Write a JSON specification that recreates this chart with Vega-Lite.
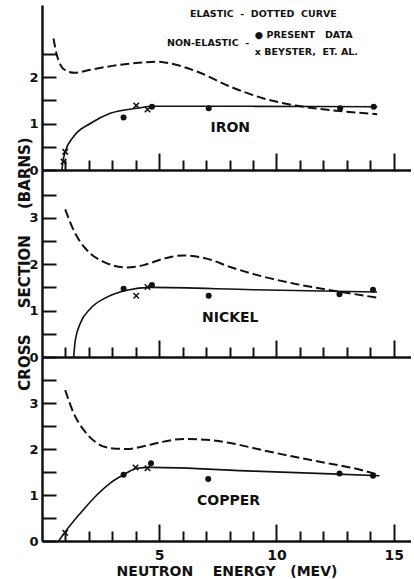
{
  "$schema": "https://vega.github.io/schema/vega-lite/v6.json",
  "padding": {"left": 17, "top": 5, "right": 0, "bottom": 0},
  "spacing": 0,
  "bounds": "flush",
  "config": {
    "view": {"stroke": null},
    "font": "DejaVu Sans",
    "axis": {"grid": false, "domainColor": "#111", "domainWidth": 2.5, "tickColor": "#111", "tickWidth": 2, "labelFont": "DejaVu Sans", "labelFontWeight": "bold", "labelColor": "#111", "titleFont": "DejaVu Sans", "titleFontWeight": "bold", "titleColor": "#111"}
  },
  "datasets": {
    "curves": [
      {"m":"IRON","k":"el","e":0.49,"s":2.83},{"m":"IRON","k":"el","e":0.62,"s":2.5},{"m":"IRON","k":"el","e":0.8,"s":2.25},{"m":"IRON","k":"el","e":1.05,"s":2.13},{"m":"IRON","k":"el","e":1.4,"s":2.09},{"m":"IRON","k":"el","e":2.0,"s":2.15},{"m":"IRON","k":"el","e":3.0,"s":2.24},{"m":"IRON","k":"el","e":4.0,"s":2.3},{"m":"IRON","k":"el","e":4.9,"s":2.33},{"m":"IRON","k":"el","e":5.5,"s":2.29},{"m":"IRON","k":"el","e":6.6,"s":2.12},{"m":"IRON","k":"el","e":8.0,"s":1.8},{"m":"IRON","k":"el","e":9.45,"s":1.54},{"m":"IRON","k":"el","e":10.9,"s":1.38},{"m":"IRON","k":"el","e":12.3,"s":1.29},{"m":"IRON","k":"el","e":14.3,"s":1.2},
      {"m":"IRON","k":"ne","e":0.85,"s":0},{"m":"IRON","k":"ne","e":0.9,"s":0.2},{"m":"IRON","k":"ne","e":0.99,"s":0.39},{"m":"IRON","k":"ne","e":1.35,"s":0.72},{"m":"IRON","k":"ne","e":2.06,"s":1.0},{"m":"IRON","k":"ne","e":2.91,"s":1.22},{"m":"IRON","k":"ne","e":4.05,"s":1.33},{"m":"IRON","k":"ne","e":4.76,"s":1.37},{"m":"IRON","k":"ne","e":9.0,"s":1.37},{"m":"IRON","k":"ne","e":14.3,"s":1.36},
      {"m":"NICKEL","k":"el","e":0.99,"s":3.18},{"m":"NICKEL","k":"el","e":1.35,"s":2.73},{"m":"NICKEL","k":"el","e":1.92,"s":2.3},{"m":"NICKEL","k":"el","e":2.63,"s":2.05},{"m":"NICKEL","k":"el","e":3.62,"s":1.93},{"m":"NICKEL","k":"el","e":4.33,"s":1.98},{"m":"NICKEL","k":"el","e":5.19,"s":2.12},{"m":"NICKEL","k":"el","e":6.04,"s":2.19},{"m":"NICKEL","k":"el","e":7.03,"s":2.12},{"m":"NICKEL","k":"el","e":8.03,"s":1.94},{"m":"NICKEL","k":"el","e":9.45,"s":1.73},{"m":"NICKEL","k":"el","e":10.87,"s":1.57},{"m":"NICKEL","k":"el","e":12.3,"s":1.44},{"m":"NICKEL","k":"el","e":14.29,"s":1.28},
      {"m":"NICKEL","k":"ne","e":1.35,"s":0},{"m":"NICKEL","k":"ne","e":1.42,"s":0.36},{"m":"NICKEL","k":"ne","e":1.63,"s":0.72},{"m":"NICKEL","k":"ne","e":2.06,"s":1.04},{"m":"NICKEL","k":"ne","e":2.77,"s":1.29},{"m":"NICKEL","k":"ne","e":3.62,"s":1.44},{"m":"NICKEL","k":"ne","e":4.62,"s":1.5},{"m":"NICKEL","k":"ne","e":9.0,"s":1.45},{"m":"NICKEL","k":"ne","e":14.29,"s":1.4},
      {"m":"COPPER","k":"el","e":0.99,"s":3.28},{"m":"COPPER","k":"el","e":1.35,"s":2.78},{"m":"COPPER","k":"el","e":1.77,"s":2.42},{"m":"COPPER","k":"el","e":2.34,"s":2.13},{"m":"COPPER","k":"el","e":2.91,"s":2.02},{"m":"COPPER","k":"el","e":3.62,"s":2.0},{"m":"COPPER","k":"el","e":4.33,"s":2.06},{"m":"COPPER","k":"el","e":5.19,"s":2.16},{"m":"COPPER","k":"el","e":6.04,"s":2.22},{"m":"COPPER","k":"el","e":7.03,"s":2.2},{"m":"COPPER","k":"el","e":8.03,"s":2.13},{"m":"COPPER","k":"el","e":9.45,"s":1.97},{"m":"COPPER","k":"el","e":10.87,"s":1.82},{"m":"COPPER","k":"el","e":12.3,"s":1.68},{"m":"COPPER","k":"el","e":13.15,"s":1.6},{"m":"COPPER","k":"el","e":14.29,"s":1.45},
      {"m":"COPPER","k":"ne","e":0.71,"s":0},{"m":"COPPER","k":"ne","e":0.99,"s":0.2},{"m":"COPPER","k":"ne","e":1.63,"s":0.6},{"m":"COPPER","k":"ne","e":2.34,"s":1.0},{"m":"COPPER","k":"ne","e":2.91,"s":1.26},{"m":"COPPER","k":"ne","e":3.48,"s":1.44},{"m":"COPPER","k":"ne","e":4.05,"s":1.58},{"m":"COPPER","k":"ne","e":4.62,"s":1.6},{"m":"COPPER","k":"ne","e":9.0,"s":1.52},{"m":"COPPER","k":"ne","e":14.4,"s":1.42}
    ],
    "points": [
      {"m":"IRON","src":"p","e":3.48,"s":1.13},{"m":"IRON","src":"p","e":4.69,"s":1.36},{"m":"IRON","src":"p","e":7.11,"s":1.33},{"m":"IRON","src":"p","e":12.72,"s":1.33},{"m":"IRON","src":"p","e":14.15,"s":1.36},
      {"m":"IRON","src":"b","e":0.99,"s":0.39},{"m":"IRON","src":"b","e":0.92,"s":0.18},{"m":"IRON","src":"b","e":4.02,"s":1.39},{"m":"IRON","src":"b","e":4.5,"s":1.3},
      {"m":"NICKEL","src":"p","e":3.48,"s":1.47},{"m":"NICKEL","src":"p","e":4.69,"s":1.55},{"m":"NICKEL","src":"p","e":7.11,"s":1.32},{"m":"NICKEL","src":"p","e":12.69,"s":1.35},{"m":"NICKEL","src":"p","e":14.12,"s":1.45},
      {"m":"NICKEL","src":"b","e":4.02,"s":1.32},{"m":"NICKEL","src":"b","e":4.5,"s":1.51},
      {"m":"COPPER","src":"p","e":3.48,"s":1.44},{"m":"COPPER","src":"p","e":4.65,"s":1.69},{"m":"COPPER","src":"p","e":7.09,"s":1.35},{"m":"COPPER","src":"p","e":12.69,"s":1.47},{"m":"COPPER","src":"p","e":14.12,"s":1.42},
      {"m":"COPPER","src":"b","e":0.99,"s":0.18},{"m":"COPPER","src":"b","e":3.99,"s":1.6},{"m":"COPPER","src":"b","e":4.5,"s":1.58}
    ],
    "labels": [
      {"m":"IRON","t":"IRON","e":8.03,"s":0.9},
      {"m":"NICKEL","t":"NICKEL","e":8.03,"s":0.84},
      {"m":"COPPER","t":"COPPER","e":7.96,"s":0.86}
    ],
    "notes": [
      {"t":"ELASTIC\u00a0\u00a0-\u00a0\u00a0DOTTED\u00a0\u00a0CURVE","e":6.31,"s":3.35},
      {"t":"NON-ELASTIC\u00a0\u00a0-","e":5.33,"s":2.73},
      {"t":"● PRESENT\u00a0\u00a0 DATA","e":9.08,"s":2.9},
      {"t":"x BEYSTER,\u00a0 ET. AL.","e":9.08,"s":2.54}
    ]
  },
  "vconcat": [
    {
      "width": 369, "height": 165,
      "encoding": {
        "x": {"field": "e", "type": "quantitative", "scale": {"domain": [0, 15.74], "nice": false},
              "axis": {"values": [1,2,3,4,5,6,7,8,9,10,11,12,13,14,15], "tickSize": {"condition": {"test": "datum.value % 5 === 0", "value": -17}, "value": -10}, "labels": false, "title": null}},
        "y": {"field": "s", "type": "quantitative", "scale": {"domain": [0, 3.55], "nice": false},
              "axis": {"values": [0,0.5,1,1.5,2,2.5], "tickSize": -14, "labelExpr": "datum.value % 1 === 0 ? format(datum.value, 'd') : ''", "labelFontSize": 13, "labelPadding": 18, "title": null}}
      },
      "layer": [
        {"data": {"name": "curves"}, "transform": [{"filter": "datum.m === 'IRON' && datum.k === 'el'"}], "mark": {"type": "line", "interpolate": "monotone", "strokeDash": [9, 4], "strokeWidth": 2, "color": "#111"}},
        {"data": {"name": "curves"}, "transform": [{"filter": "datum.m === 'IRON' && datum.k === 'ne'"}], "mark": {"type": "line", "interpolate": "monotone", "strokeWidth": 1.6, "color": "#111"}},
        {"data": {"name": "points"}, "transform": [{"filter": "datum.m === 'IRON' && datum.src === 'p'"}], "mark": {"type": "point", "shape": "circle", "filled": true, "size": 36, "color": "#111", "opacity": 1}},
        {"data": {"name": "points"}, "transform": [{"filter": "datum.m === 'IRON' && datum.src === 'b'"}], "mark": {"type": "point", "shape": "M-1,-1L1,1M-1,1L1,-1", "filled": false, "size": 30, "strokeWidth": 1.5, "color": "#111", "opacity": 1}},
        {"data": {"name": "labels"}, "transform": [{"filter": "datum.m === 'IRON'"}], "mark": {"type": "text", "font": "DejaVu Sans", "fontWeight": "bold", "fontSize": 14, "align": "center", "baseline": "middle", "color": "#111"}, "encoding": {"text": {"field": "t"}}},
        {"data": {"name": "notes"}, "mark": {"type": "text", "font": "DejaVu Sans", "fontWeight": "bold", "fontSize": 9.5, "align": "left", "baseline": "middle", "color": "#111"}, "encoding": {"text": {"field": "t"}}},
        {"data": {"values": [{}]}, "mark": {"type": "rule", "strokeWidth": 2.5, "color": "#111"}, "encoding": {"x": {"datum": 0, "type": "quantitative"}, "x2": {"datum": 15.74}, "y": {"datum": 3.55, "type": "quantitative"}}}
      ]
    },
    {
      "width": 369, "height": 187,
      "encoding": {
        "x": {"field": "e", "type": "quantitative", "scale": {"domain": [0, 15.74], "nice": false},
              "axis": {"values": [1,2,3,4,5,6,7,8,9,10,11,12,13,14,15], "tickSize": {"condition": {"test": "datum.value % 5 === 0", "value": -17}, "value": -10}, "labels": false, "title": null}},
        "y": {"field": "s", "type": "quantitative", "scale": {"domain": [0, 4.03], "nice": false},
              "axis": {"values": [0,0.5,1,1.5,2,2.5,3,3.5], "tickSize": -14, "labelExpr": "datum.value % 1 === 0 ? format(datum.value, 'd') : ''", "labelFontSize": 13, "labelPadding": 18, "title": "CROSS\u00a0\u00a0\u00a0\u00a0 SECTION\u00a0\u00a0\u00a0\u00a0 (BARNS)", "titleFontSize": 15, "titlePadding": -4}}
      },
      "layer": [
        {"data": {"name": "curves"}, "transform": [{"filter": "datum.m === 'NICKEL' && datum.k === 'el'"}], "mark": {"type": "line", "interpolate": "monotone", "strokeDash": [9, 4], "strokeWidth": 2, "color": "#111"}},
        {"data": {"name": "curves"}, "transform": [{"filter": "datum.m === 'NICKEL' && datum.k === 'ne'"}], "mark": {"type": "line", "interpolate": "monotone", "strokeWidth": 1.6, "color": "#111"}},
        {"data": {"name": "points"}, "transform": [{"filter": "datum.m === 'NICKEL' && datum.src === 'p'"}], "mark": {"type": "point", "shape": "circle", "filled": true, "size": 36, "color": "#111", "opacity": 1}},
        {"data": {"name": "points"}, "transform": [{"filter": "datum.m === 'NICKEL' && datum.src === 'b'"}], "mark": {"type": "point", "shape": "M-1,-1L1,1M-1,1L1,-1", "filled": false, "size": 30, "strokeWidth": 1.5, "color": "#111", "opacity": 1}},
        {"data": {"name": "labels"}, "transform": [{"filter": "datum.m === 'NICKEL'"}], "mark": {"type": "text", "font": "DejaVu Sans", "fontWeight": "bold", "fontSize": 14, "align": "center", "baseline": "middle", "color": "#111"}, "encoding": {"text": {"field": "t"}}}
      ]
    },
    {
      "width": 369, "height": 184,
      "encoding": {
        "x": {"field": "e", "type": "quantitative", "scale": {"domain": [0, 15.74], "nice": false},
              "axis": {"values": [1,2,3,4,5,6,7,8,9,10,11,12,13,14,15], "tickSize": {"condition": {"test": "datum.value % 5 === 0", "value": -17}, "value": -10}, "labelExpr": "datum.value % 5 === 0 ? datum.label : ''", "labelFontSize": 14, "labelPadding": 24, "title": "NEUTRON\u00a0\u00a0\u00a0 ENERGY\u00a0\u00a0 (MEV)", "titleFontSize": 14, "titlePadding": 2}},
        "y": {"field": "s", "type": "quantitative", "scale": {"domain": [0, 4.0], "nice": false},
              "axis": {"values": [0,0.5,1,1.5,2,2.5,3,3.5], "tickSize": -14, "labelExpr": "datum.value % 1 === 0 ? format(datum.value, 'd') : ''", "labelFontSize": 13, "labelPadding": 18, "title": null}}
      },
      "layer": [
        {"data": {"name": "curves"}, "transform": [{"filter": "datum.m === 'COPPER' && datum.k === 'el'"}], "mark": {"type": "line", "interpolate": "monotone", "strokeDash": [9, 4], "strokeWidth": 2, "color": "#111"}},
        {"data": {"name": "curves"}, "transform": [{"filter": "datum.m === 'COPPER' && datum.k === 'ne'"}], "mark": {"type": "line", "interpolate": "monotone", "strokeWidth": 1.6, "color": "#111"}},
        {"data": {"name": "points"}, "transform": [{"filter": "datum.m === 'COPPER' && datum.src === 'p'"}], "mark": {"type": "point", "shape": "circle", "filled": true, "size": 36, "color": "#111", "opacity": 1}},
        {"data": {"name": "points"}, "transform": [{"filter": "datum.m === 'COPPER' && datum.src === 'b'"}], "mark": {"type": "point", "shape": "M-1,-1L1,1M-1,1L1,-1", "filled": false, "size": 30, "strokeWidth": 1.5, "color": "#111", "opacity": 1}},
        {"data": {"name": "labels"}, "transform": [{"filter": "datum.m === 'COPPER'"}], "mark": {"type": "text", "font": "DejaVu Sans", "fontWeight": "bold", "fontSize": 14, "align": "center", "baseline": "middle", "color": "#111"}, "encoding": {"text": {"field": "t"}}}
      ]
    }
  ]
}
